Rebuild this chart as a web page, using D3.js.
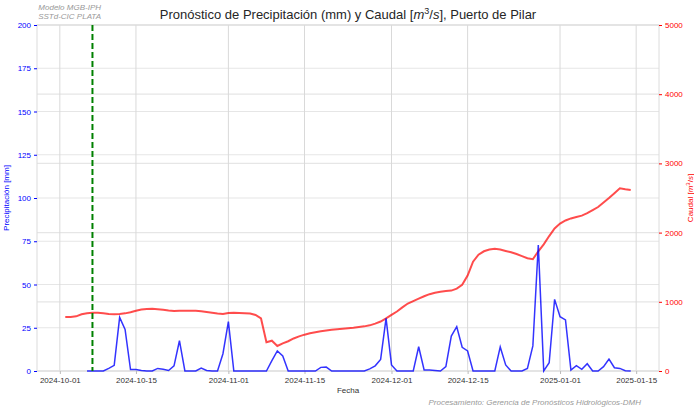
<!DOCTYPE html>
<html>
<head>
<meta charset="utf-8">
<script src="https://cdn.jsdelivr.net/npm/d3@7/dist/d3.min.js"></script>
<style>
    body { margin: 0; background: #fff; }
    text { font-family: "Liberation Sans", Arial, sans-serif; }
</style>
</head>
<body>
<div id="chart"></div>
<script>

// Caudal diario [m3/s], desde 2024-10-02
var caudalStart = "2024-10-02";
var caudal = [
    780, 782, 790, 820, 835, 843, 840, 833, 825, 820,
    825, 833, 850, 870, 888, 896, 898, 893, 885, 875,
    868, 870, 872, 872, 870, 862, 852, 842, 832, 824,
    838, 840, 838, 835, 830, 810, 760, 415, 438, 361,
    400, 430, 470, 500, 525, 545, 560, 575, 585, 595,
    605, 612, 618, 625, 635, 645, 660, 685, 715, 760,
    810, 860, 920, 975, 1010, 1045, 1080, 1110, 1130, 1145,
    1155, 1162, 1190, 1245, 1380, 1580, 1680, 1730, 1755, 1765,
    1755, 1735, 1715, 1690, 1660, 1630, 1615, 1730, 1830, 1950,
    2060, 2130, 2175, 2205, 2225, 2245, 2280, 2325, 2370, 2435,
    2500, 2570, 2640, 2625, 2615
];

// Precipitacion diaria [mm], desde 2024-10-06
var precipStart = "2024-10-06";
var precip = [
    0, 0, 0, 0, 1.5, 3.3, 31, 24, 0.8, 0.8,
    0.3, 0, 0, 1.5, 1, 0.3, 3, 17.5, 0, 0,
    0, 1.7, 0.3, 0, 0, 10, 28.5, 0, 0, 0,
    0, 0, 0, 0, 6, 11.6, 8.7, 0, 0, 0,
    0, 0, 0, 2.1, 2.3, 0, 0, 0, 0, 0,
    0, 0, 1.2, 3, 6.7, 30.4, 3.5, 0, 0, 0,
    0, 14, 0.6, 0.6, 0.3, 0, 2.5, 20.2, 25.6, 13.7,
    11.6, 0, 0, 0, 0, 0, 13.9, 3.5, 0, 0,
    0, 1.5, 14.5, 72.8, 0, 4.8, 41.4, 31.4, 29.5, 0.6,
    3.1, 1, 4.2, 0, 0, 2.5, 6.9, 1.9, 1.5, 0.2,
    0
];

var forecastDate = "2024-10-07";
var tickDates = ["2024-10-01", "2024-10-15", "2024-11-01", "2024-11-15",
                 "2024-12-01", "2024-12-15", "2025-01-01", "2025-01-15"];
var precipTicks = [0, 25, 50, 75, 100, 125, 150, 175, 200];
var caudalTicks = [0, 1000, 2000, 3000, 4000, 5000];

var parseDate = d3.utcParse("%Y-%m-%d");

function toSeries(start, values) {
    var t0 = parseDate(start);
    return values.map(function(v, i) {
        return { date: d3.utcDay.offset(t0, i), value: v };
    });
}

var caudalData = toSeries(caudalStart, caudal);
var precipData = toSeries(precipStart, precip);

var W = 694, H = 407;
var margin = { top: 25, right: 35, bottom: 36, left: 37 };
var width = W - margin.left - margin.right;
var height = H - margin.top - margin.bottom;

var svg = d3.select("#chart").append("svg")
    .attr("width", W)
    .attr("height", H);

var g = svg.append("g")
    .attr("transform", "translate(" + margin.left + "," + margin.top + ")");

// x domain with 5% padding like matplotlib
var ext = d3.extent(caudalData.concat(precipData), function(d) { return d.date; });
var span = ext[1] - ext[0];
var x = d3.scaleUtc()
    .domain([new Date(+ext[0] - span * 0.05), new Date(+ext[1] + span * 0.05)])
    .range([0, width]);

var yP = d3.scaleLinear().domain([0, 200]).range([height, 0]);
var yQ = d3.scaleLinear().domain([0, 5000]).range([height, 0]);

// grid lines
var grid = g.append("g").attr("class", "grid");
grid.selectAll(".hp").data(precipTicks).enter().append("line")
    .attr("x1", 0).attr("x2", width)
    .attr("y1", function(d) { return yP(d); })
    .attr("y2", function(d) { return yP(d); })
    .style("stroke", "#e6e6e6").style("stroke-width", 1.2);
grid.selectAll(".hq").data(caudalTicks).enter().append("line")
    .attr("x1", 0).attr("x2", width)
    .attr("y1", function(d) { return yQ(d); })
    .attr("y2", function(d) { return yQ(d); })
    .style("stroke", "#e6e6e6").style("stroke-width", 1.2);
grid.selectAll(".vx").data(tickDates).enter().append("line")
    .attr("x1", function(d) { return x(parseDate(d)); })
    .attr("x2", function(d) { return x(parseDate(d)); })
    .attr("y1", 0).attr("y2", height)
    .style("stroke", "#d9d9d9").style("stroke-width", 1);

// frame
g.append("rect")
    .attr("width", width).attr("height", height)
    .style("fill", "none").style("stroke", "#dcdcdc").style("stroke-width", 1);

// x axis
var xAxis = g.append("g")
    .attr("transform", "translate(0," + height + ")")
    .call(d3.axisBottom(x)
        .tickValues(tickDates.map(parseDate))
        .tickFormat(d3.utcFormat("%Y-%m-%d"))
        .tickSize(3).tickPadding(3));
xAxis.select(".domain").remove();
xAxis.selectAll("line").style("stroke", "#bbbbbb");
xAxis.selectAll("text").style("font-size", "8px").style("fill", "#333333");

// left axis
var yAxisL = g.append("g")
    .call(d3.axisLeft(yP).tickValues(precipTicks).tickSize(3).tickPadding(3));
yAxisL.select(".domain").remove();
yAxisL.selectAll("line").style("stroke", "blue");
yAxisL.selectAll("text").style("font-size", "8px").style("fill", "blue");

// right axis
var yAxisR = g.append("g")
    .attr("transform", "translate(" + width + ",0)")
    .call(d3.axisRight(yQ).tickValues(caudalTicks).tickFormat(d3.format("d"))
        .tickSize(3).tickPadding(3));
yAxisR.select(".domain").remove();
yAxisR.selectAll("line").style("stroke", "red");
yAxisR.selectAll("text").style("font-size", "8px").style("fill", "red");

// lines
var lineP = d3.line()
    .x(function(d) { return x(d.date); })
    .y(function(d) { return yP(d.value); });
var lineQ = d3.line()
    .x(function(d) { return x(d.date); })
    .y(function(d) { return yQ(d.value); });

g.append("path")
    .datum(caudalData)
    .attr("d", lineQ)
    .style("fill", "none")
    .style("stroke", "red")
    .style("stroke-opacity", 0.7)
    .style("stroke-width", 2);

g.append("path")
    .datum(precipData)
    .attr("d", lineP)
    .style("fill", "none")
    .style("stroke", "blue")
    .style("stroke-opacity", 0.8)
    .style("stroke-width", 1.5);

// forecast start
g.append("line")
    .attr("x1", x(parseDate(forecastDate)))
    .attr("x2", x(parseDate(forecastDate)))
    .attr("y1", 0).attr("y2", height)
    .style("stroke", "green")
    .style("stroke-width", 2)
    .style("stroke-dasharray", "6,3");

// labels
g.append("text")
    .attr("transform", "translate(" + (-28) + "," + (height / 2) + ") rotate(-90)")
    .attr("text-anchor", "middle")
    .style("font-size", "8px").style("fill", "blue")
    .text("Precipitación [mm]");

var rl = g.append("text")
    .attr("transform", "translate(" + (width + 34) + "," + (height / 2) + ") rotate(-90)")
    .attr("text-anchor", "middle")
    .style("font-size", "8px").style("fill", "red");
rl.append("tspan").text("Caudal [");
rl.append("tspan").style("font-style", "italic").text("m");
rl.append("tspan").attr("dy", -3).style("font-size", "6px").text("3");
rl.append("tspan").attr("dy", 3).text("/");
rl.append("tspan").style("font-style", "italic").text("s");
rl.append("tspan").text("]");

g.append("text")
    .attr("x", width / 2).attr("y", height + 22)
    .attr("text-anchor", "middle")
    .style("font-size", "8px").style("fill", "#333333")
    .text("Fecha");

var title = svg.append("text")
    .attr("x", margin.left + width / 2).attr("y", 19)
    .attr("text-anchor", "middle")
    .style("font-size", "13px").style("fill", "#262626");
title.append("tspan").text("Pronóstico de Precipitación (mm) y Caudal [");
title.append("tspan").style("font-style", "italic").text("m");
title.append("tspan").attr("dy", -5).style("font-size", "9px").text("3");
title.append("tspan").attr("dy", 5).text("/");
title.append("tspan").style("font-style", "italic").text("s");
title.append("tspan").text("], Puerto de Pilar");

svg.append("text")
    .attr("x", 101).attr("y", 10)
    .attr("text-anchor", "end")
    .style("font-size", "8px").style("font-style", "italic").style("fill", "#999999")
    .text("Modelo MGB-IPH");
svg.append("text")
    .attr("x", 101).attr("y", 19)
    .attr("text-anchor", "end")
    .style("font-size", "8px").style("font-style", "italic").style("fill", "#999999")
    .text("SSTd-CIC PLATA");

svg.append("text")
    .attr("x", 641).attr("y", 405)
    .attr("text-anchor", "end")
    .style("font-size", "8px").style("font-style", "italic").style("fill", "#999999")
    .text("Procesamiento: Gerencia de Pronósticos Hidrológicos-DMH");

</script>
</body>
</html>
